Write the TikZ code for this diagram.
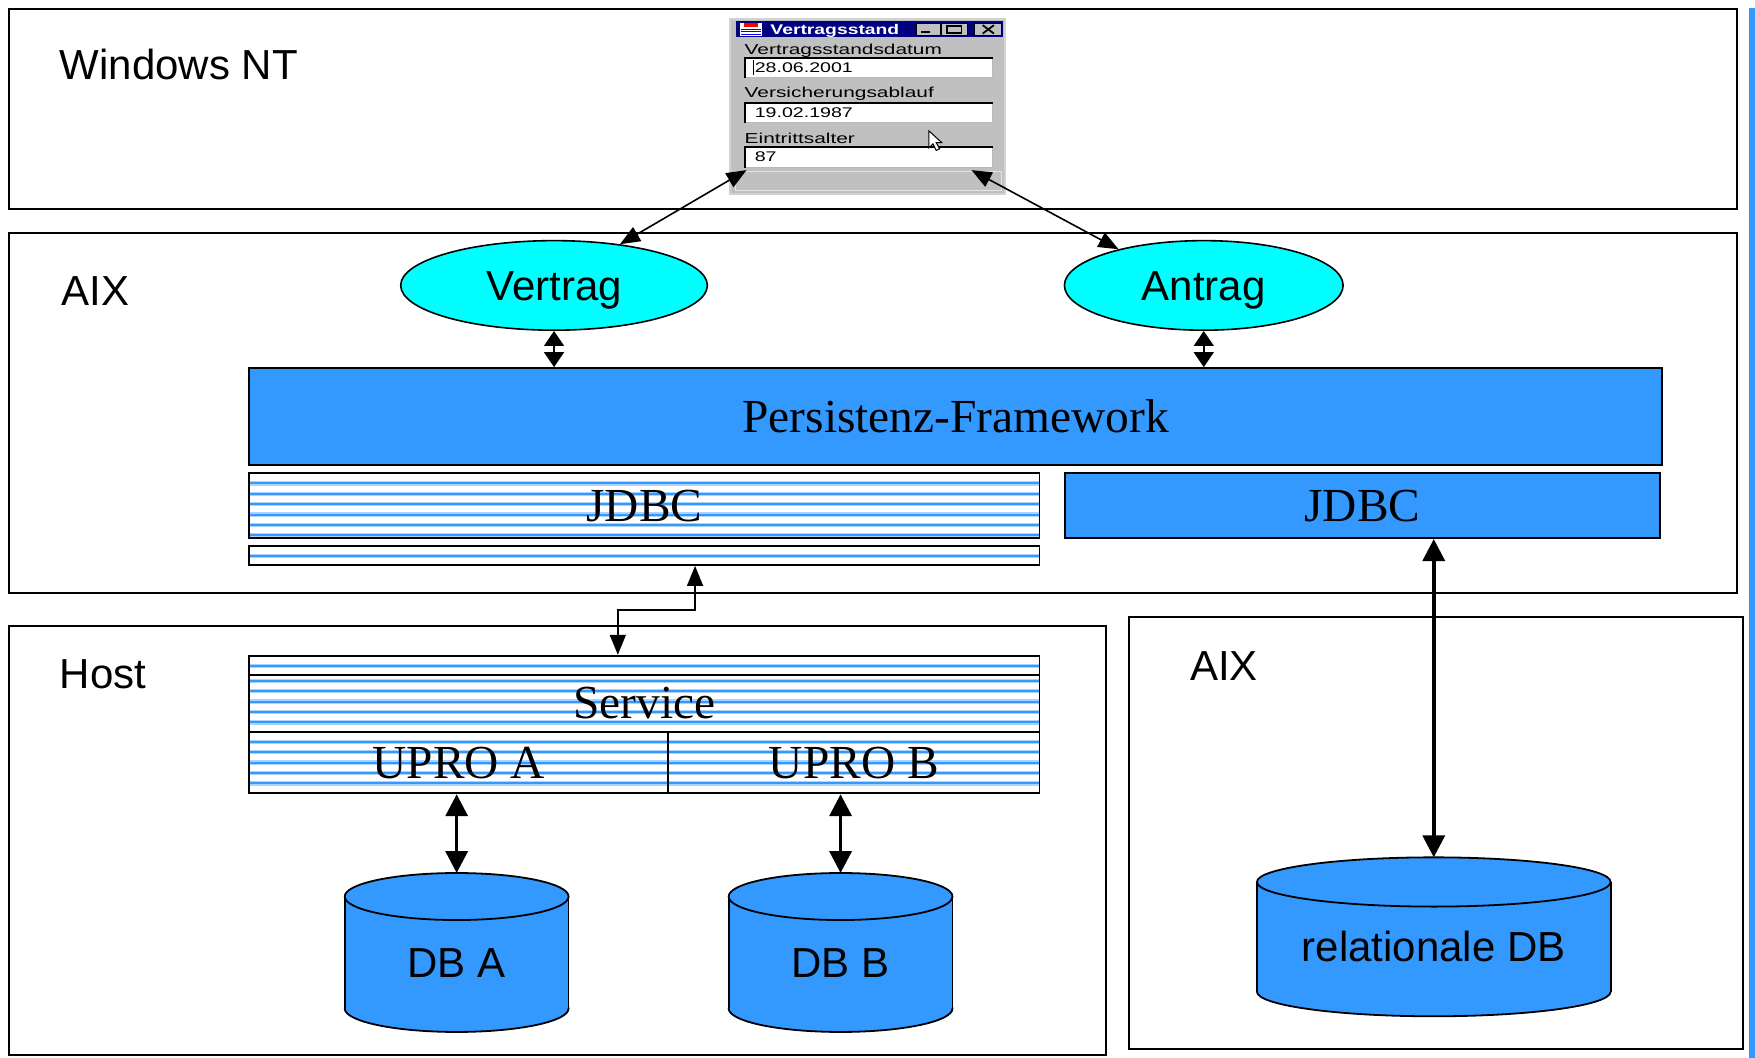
\documentclass[tikz,border=0pt]{standalone}
\usepackage{fontspec}
\setmainfont{Liberation Serif}
\newfontfamily\arial{Liberation Sans}
\usetikzlibrary{arrows.meta,calc,shapes.geometric}
\def\U{0.5597pt}
\definecolor{dbblue}{RGB}{51,153,255}
\definecolor{stripeD}{RGB}{51,153,255}
\definecolor{stripeL}{RGB}{170,212,255}
\definecolor{cyanfill}{RGB}{0,255,255}
\definecolor{wingray}{RGB}{192,192,192}
\definecolor{navy}{RGB}{0,0,128}
\newcommand\dbcyl[7]{%
  \draw[line width=0.9pt, fill=dbblue] (#2,#4) ellipse [x radius=#5, y radius=#6];
  \fill[dbblue] (#2-#5,#3) rectangle (#2+#5,#4);
  \draw[line width=0.9pt] (#2-#5,#3) -- (#2-#5,#4) (#2+#5,#3) -- (#2+#5,#4);
  \draw[line width=0.9pt, fill=dbblue] (#2,#3) ellipse [x radius=#5, y radius=#6];
  \coordinate (#1top) at (#2,#3-#6);
  \coordinate (#1) at (#2,#7);
}
\newcommand\dlgfield[2]{%
  \fill[white] (666,#1) rectangle (887,#2);
  \draw[gray!55, line width=0.5pt] (666,#2) -- (887,#2) -- (887,#1);
  \draw[black, line width=1pt] (666,#2) -- (666,#1) -- (887,#1);
}
\begin{document}
\begin{tikzpicture}[x=\U, y=-\U,
  zone/.style={draw=black, line width=1pt},
  lbl/.style={font=\fontsize{21}{25}\selectfont\arial, anchor=base west, inner sep=0pt},
  layer/.style={draw=black, line width=0.9pt, anchor=north west, inner sep=0pt,
    font=\fontsize{23.7}{28}\selectfont, text height=15.7pt, text depth=0pt},
  solidlayer/.style={layer, fill=dbblue},
  striped/.style n args={2}{layer, fill=white, path picture={
      \foreach \k in {1,...,#2}{
        \pgfmathsetmacro\yy{#1+9.3*(\k-1)}
        \draw[stripeL, line width=2.2pt] ($(path picture bounding box.north west)+(0,\yy)$) -- ($(path picture bounding box.north east)+(0,\yy)$);
        \draw[stripeD, line width=1pt] ($(path picture bounding box.north west)+(0,\yy)$) -- ($(path picture bounding box.north east)+(0,\yy)$);
      }}},
  emptybar/.style={text height=0pt, text depth=0pt},
  oval/.style={ellipse, draw=black, line width=0.8pt, fill=cyanfill, inner sep=0pt,
    font=\fontsize{21}{25}\selectfont\arial, text height=15pt, text depth=0pt},
  dbtext/.style={inner sep=0pt, font=\fontsize{21}{25}\selectfont\arial, text height=15pt, text depth=0pt},
  thinarrow/.style={line width=0.8pt, {Triangle[length=10pt,width=8pt]}-{Triangle[length=10pt,width=8pt]}},
  shortarrow/.style={line width=0.8pt, {Triangle[length=7.5pt,width=10pt]}-{Triangle[length=7.5pt,width=10pt]}},
  thickarrow/.style={line width=1.8pt, {Triangle[length=11pt,width=11pt]}-{Triangle[length=11pt,width=11pt]}},
  dlglbl/.style={anchor=base west, inner sep=0pt},
]
\useasboundingbox (0,0) rectangle (1568,945);
\fill[white] (0,0) rectangle (1568,945);
\fill[dbblue] (1563,7.5) rectangle (1568,945);

% zones
\draw[zone] (8,8) rectangle (1552,186.5);
\draw[zone] (8,208) rectangle (1552,530);
\draw[zone] (8,559) rectangle (988,943);
\draw[zone] (1009,551) rectangle (1557,937);

\node[lbl] (lwin) at (53,71) {Windows NT};
\node[lbl] (laix1) at (55,273) {AIX};
\node[lbl] (lhost) at (53,615) {Host};
\node[lbl] (laix2) at (1063,608) {AIX};

% dialog window
\node[draw=gray!35, line width=0.8pt, fill=wingray, anchor=north west, inner sep=0pt,
  minimum width=245.5*\U, minimum height=156*\U] (win) at (651.5,16.5) {};
\fill[navy] (657.5,18.5) rectangle (896,33);
\fill[white] (661,20.5) rectangle (681,32);
\fill[red] (665,20.5) rectangle (677,24);
\draw[blue, line width=0.5pt] (662,26) -- (680,26) (662,28.5) -- (680,28.5) (662,31) -- (680,31);
\node[dlglbl, text=white] (wtitle) at (688,30.5) {\scalebox{1.38}[1]{\fontsize{7}{8}\selectfont\arial\bfseries Vertragsstand}};
\draw[fill=wingray, line width=0.4pt] (818.5,20.5) rectangle (840,32);
\draw[fill=wingray, line width=0.4pt] (841.5,20.5) rectangle (864,32);
\draw[fill=wingray, line width=0.4pt] (871,20.5) rectangle (895,32);
\draw[line width=1.2pt] (823,28.5) -- (831,28.5);
\draw[line width=0.6pt] (846,23) rectangle (859,29.5);
\draw[line width=1.2pt] (846,23.3) -- (859,23.3);
\draw[line width=0.9pt] (878,22.5) -- (888,30) (878,30) -- (888,22.5);

\node[dlglbl] (l1) at (665,49) {\scalebox{1.45}[1]{\fontsize{7.2}{8}\selectfont\arial Vertragsstandsdatum}};
\dlgfield{51.5}{69.5}
\draw[line width=0.5pt] (673,54) -- (673,67);
\node[dlglbl] (v1) at (674,65) {\scalebox{1.4}[1]{\fontsize{7}{8}\selectfont\arial 28.06.2001}};
\node[dlglbl] (l2) at (665,87) {\scalebox{1.45}[1]{\fontsize{7.2}{8}\selectfont\arial Versicherungsablauf}};
\dlgfield{91.7}{109.6}
\node[dlglbl] (v2) at (674,104.8) {\scalebox{1.4}[1]{\fontsize{7}{8}\selectfont\arial 19.02.1987}};
\node[dlglbl] (l3) at (665,128) {\scalebox{1.45}[1]{\fontsize{7.2}{8}\selectfont\arial Eintrittsalter}};
\dlgfield{131.6}{149.8}
\node[dlglbl] (v3) at (674,144.5) {\scalebox{1.4}[1]{\fontsize{7}{8}\selectfont\arial 87}};
\draw[white!80!gray, line width=0.6pt] (657,153) rectangle (895,170);
\draw[fill=white, line width=0.5pt, line join=miter] (830,117) -- (830,132) -- (833.5,128.5) -- (836.5,134.5) -- (839.5,133) -- (836.5,127.5) -- (841.5,127.5) -- cycle;
\coordinate (winL) at (667,152);
\coordinate (winR) at (868,152);

% AIX layer
\node[oval, minimum width=274*\U, minimum height=80*\U] (vertrag) at (495,255) {Vertrag};
\node[oval, minimum width=249*\U, minimum height=80*\U] (antrag) at (1075.5,255) {Antrag};
\node[solidlayer, minimum width=1262*\U, minimum height=87*\U] (pers) at (222,328) {Persistenz-Framework};
\node[striped={9}{6}, minimum width=706*\U, minimum height=58*\U] (jdbcL) at (222,422) {JDBC};
\node[striped={9}{1}, emptybar, minimum width=706*\U, minimum height=17*\U] (bar) at (222,487) {};
\node[solidlayer, minimum width=531*\U, minimum height=58*\U] (jdbcR) at (951,422) {JDBC};

% Host layer
\node[striped={9}{1}, emptybar, minimum width=706*\U, minimum height=17*\U] (srvtop) at (222,585) {};
\node[striped={5.5}{5}, minimum width=706*\U, minimum height=51*\U] (service) at (222,602) {Service};
\node[striped={9}{5}, minimum width=374*\U, minimum height=55*\U] (uproA) at (222,653) {UPRO A};
\node[striped={9}{5}, minimum width=332*\U, minimum height=55*\U] (uproB) at (596,653) {UPRO B};

\dbcyl{dbA}{408}{801}{901}{100}{21}{860}
\node[dbtext] (dbAlabel) at (dbA) {DB A};
\dbcyl{dbB}{751}{801}{901}{100}{21}{860}
\node[dbtext] (dbBlabel) at (dbB) {DB B};
\dbcyl{dbR}{1281}{788}{886}{158}{22}{846}
\node[dbtext] (dbRlabel) at (dbR) {relationale DB};

% connectors
\draw[thinarrow] (winL) -- (vertrag.32);
\draw[thinarrow] (winR) -- (antrag.157);
\draw[shortarrow] (vertrag.south) -- (vertrag.south |- pers.north);
\draw[shortarrow] (antrag.south) -- (antrag.south |- pers.north);
\coordinate (ex) at (621,545);
\coordinate (sx) at (552,545);
\draw[thinarrow] (bar.south -| ex) -- (ex) -- (sx) -- (sx |- srvtop.north);
\draw[thickarrow] (jdbcR.south -| dbRtop) -- (dbRtop);
\draw[thickarrow] (uproA.south -| dbAtop) -- (dbAtop);
\draw[thickarrow] (uproB.south -| dbBtop) -- (dbBtop);
\end{tikzpicture}
\end{document}
